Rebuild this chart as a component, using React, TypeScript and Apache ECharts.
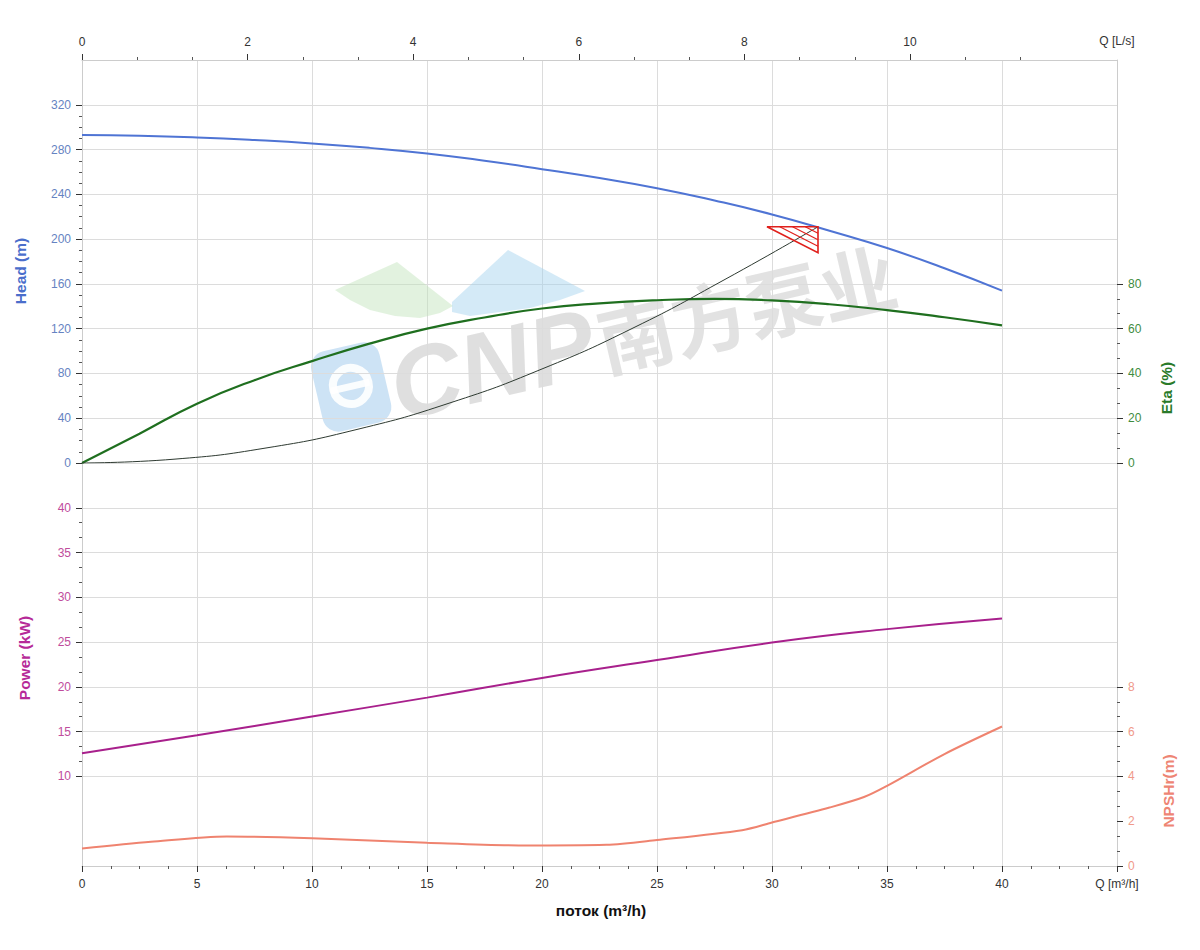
import React, { useEffect, useRef } from 'react';
import * as echarts from 'echarts';

// ---------- data ----------
const qPump = [0, 2.5, 5, 7.5, 10, 12.5, 15, 17.5, 20, 22.5, 25, 27.5, 30, 32.5, 35, 37.5, 40];
const headM = [292.9, 292.3, 290.8, 288.5, 285.5, 281.5, 276.5, 270.0, 262.5, 254.5, 245.5, 234.5, 222.0, 207.5, 192.0, 174.0, 154.0];
const etaPct = [0, 13.1, 26.5, 37.0, 45.5, 53.3, 60.0, 65.0, 69.0, 71.3, 72.7, 73.3, 72.6, 70.9, 68.3, 65.1, 61.5];
const qPower = [0, 5, 10, 15, 20, 25, 30, 35, 40];
const powerKw = [12.6, 14.6, 16.7, 18.8, 21.0, 23.0, 24.95, 26.45, 27.65];
const qNpsh = [0, 3, 6.3, 10, 15, 19, 22.8, 25, 28.7, 30, 32.5, 34, 35, 37.5, 40];
const npshM = [0.78, 1.08, 1.32, 1.24, 1.04, 0.92, 0.95, 1.16, 1.6, 1.94, 2.61, 3.08, 3.58, 5.0, 6.23];
const qSystem = [0, 4, 8, 12, 16, 20, 24, 28, 32];
const systemHeadM = [0, 3.4, 13.4, 30.2, 53.7, 84.0, 121.0, 164.5, 211.0];
const dutyPoint = [32, 211];

// ---------- tick labels ----------
const qLsTicks = [0, 2, 4, 6, 8, 10];
const headTicks = [0, 40, 80, 120, 160, 200, 240, 280, 320];
const etaTicks = [0, 20, 40, 60, 80];
const powerTicks = [10, 15, 20, 25, 30, 35, 40];
const npshTicks = [0, 2, 4, 6, 8];

const minorsBetween = (ticks: number[], n: number) => {
  const out: number[] = [];
  for (let i = 0; i < ticks.length - 1; i++) {
    const step = (ticks[i + 1] - ticks[i]) / n;
    for (let k = 1; k < n; k++) out.push(ticks[i] + step * k);
  }
  return out;
};

const FONT = "'Liberation Sans', Arial, sans-serif";
const C = {
  head: '#4f74d4',
  headLabel: '#6583c2',
  headTitle: '#4a6ecb',
  eta: '#1f6f1f',
  etaLabel: '#3f8c3f',
  etaTitle: '#2a7a2a',
  power: '#a8208c',
  powerLabel: '#c04c9c',
  powerTitle: '#b62a98',
  npsh: '#ef836f',
  npshLabel: '#f0998a',
  npshTitle: '#ee8574',
  system: '#2e3a31',
  duty: '#e0201c',
  grid: '#dcdcdc',
  axis: '#cccccc',
  tick: '#333333',
};

const GRID_LEFT = 82;
const GRID_WIDTH = 1035;

function majorAxis(opts: any) {
  const { gridIndex, position, min, max, interval, ticks, labelColor, split } = opts;
  return {
    type: 'value',
    gridIndex,
    position,
    min,
    max,
    interval,
    axisLine: { show: true, onZero: false, lineStyle: { color: C.axis, width: 1 } },
    axisTick: { show: true, customValues: ticks, length: 6, lineStyle: { color: C.tick } },
    axisLabel: {
      show: true,
      customValues: ticks,
      color: labelColor,
      fontFamily: FONT,
      fontSize: 12,
      margin: 11,
    },
    splitLine: { show: !!split, lineStyle: { color: C.grid, width: 1 } },
  };
}

function minorAxis(opts: any) {
  const { gridIndex, position, min, max, ticks } = opts;
  return {
    type: 'value',
    gridIndex,
    position,
    min,
    max,
    axisLine: { show: false, onZero: false },
    axisTick: { show: true, customValues: ticks, length: 3, lineStyle: { color: '#555' } },
    axisLabel: { show: false },
    splitLine: { show: false },
  };
}

function titleText(text: string, x: number, y: number, color: string, rotate: boolean) {
  return {
    type: 'text',
    x,
    y,
    rotation: rotate ? Math.PI / 2 : 0,
    z: 10,
    style: {
      text,
      fill: color,
      fontFamily: FONT,
      fontSize: 15.5,
      fontWeight: 'bold',
      align: 'center',
      verticalAlign: 'middle',
      textAlign: 'center',
      textVerticalAlign: 'middle',
    },
  };
}

export default function App() {
  const ref = useRef<HTMLDivElement>(null);

  useEffect(() => {
    if (!ref.current) return;
    const chart = echarts.init(ref.current, null, { renderer: 'svg' });

    const headData = qPump.map((q, i) => [q, headM[i]]);
    const etaData = qPump.map((q, i) => [q, etaPct[i]]);
    const powerData = qPower.map((q, i) => [q, powerKw[i]]);
    const npshData = qNpsh.map((q, i) => [q, npshM[i]]);
    const systemData = qSystem.map((q, i) => [q, systemHeadM[i]]);

    const qLsMinor = minorsBetween([0, 2, 4, 6, 8, 10, 12], 3).filter((v) => v < 11.5);

    const option: any = {
      animation: false,
      backgroundColor: '#ffffff',
      textStyle: { fontFamily: FONT },
      grid: [
        { left: GRID_LEFT, top: 60, width: GRID_WIDTH, height: 403 },
        { left: GRID_LEFT, top: 463, width: GRID_WIDTH, height: 403 },
      ],
      xAxis: [
        // 0: hidden m3/h axis for the upper grid (vertical grid lines)
        {
          type: 'value', gridIndex: 0, position: 'bottom', min: 0, max: 45, interval: 5,
          axisLine: { show: false, onZero: false }, axisTick: { show: false }, axisLabel: { show: false },
          splitLine: { show: true, lineStyle: { color: C.grid } },
        },
        // 1: top L/s axis
        {
          type: 'value', gridIndex: 0, position: 'top', min: 0, max: 12.5, interval: 2,
          axisLine: { show: true, onZero: false, lineStyle: { color: C.axis } },
          axisTick: { show: true, customValues: qLsTicks, length: 6, lineStyle: { color: C.tick } },
          axisLabel: { show: true, customValues: qLsTicks, color: '#333', fontFamily: FONT, fontSize: 12, margin: 12 },
          splitLine: { show: false },
        },
        // 2: top L/s minor ticks
        {
          type: 'value', gridIndex: 0, position: 'top', min: 0, max: 12.5,
          axisLine: { show: false, onZero: false },
          axisTick: { show: true, customValues: qLsMinor, length: 3, lineStyle: { color: '#555' } },
          axisLabel: { show: false }, splitLine: { show: false },
        },
        // 3: bottom m3/h axis
        {
          type: 'value', gridIndex: 1, position: 'bottom', min: 0, max: 45, interval: 5,
          axisLine: { show: true, onZero: false, lineStyle: { color: C.axis } },
          axisTick: { show: true, length: 6, lineStyle: { color: C.tick } },
          minorTick: { show: true, splitNumber: 4, length: 3, lineStyle: { color: '#555' } },
          axisLabel: {
            show: true, color: '#333', fontFamily: FONT, fontSize: 12, margin: 12,
            formatter: (v: number) => (v === 45 ? 'Q [m³/h]' : String(v)),
          },
          splitLine: { show: true, lineStyle: { color: C.grid } },
        },
      ],
      yAxis: [
        majorAxis({ gridIndex: 0, position: 'left', min: 0, max: 360, interval: 40, ticks: headTicks, labelColor: C.headLabel, split: true }),
        minorAxis({ gridIndex: 0, position: 'left', min: 0, max: 360, ticks: minorsBetween(headTicks, 4) }),
        majorAxis({ gridIndex: 0, position: 'right', min: 0, max: 180, interval: 20, ticks: etaTicks, labelColor: C.etaLabel, split: false }),
        minorAxis({ gridIndex: 0, position: 'right', min: 0, max: 180, ticks: minorsBetween(etaTicks, 3) }),
        majorAxis({ gridIndex: 1, position: 'left', min: 0, max: 45, interval: 5, ticks: powerTicks, labelColor: C.powerLabel, split: true }),
        minorAxis({ gridIndex: 1, position: 'left', min: 0, max: 45, ticks: minorsBetween(powerTicks, 3) }),
        majorAxis({ gridIndex: 1, position: 'right', min: 0, max: 18, interval: 2, ticks: npshTicks, labelColor: C.npshLabel, split: false }),
        minorAxis({ gridIndex: 1, position: 'right', min: 0, max: 18, ticks: minorsBetween(npshTicks, 3) }),
      ],
      graphic: [
        // watermark mountains
        {
          type: 'polygon', z: 1, silent: true,
          shape: { points: [[397, 262], [453, 306], [440, 313], [420, 318], [395, 316], [370, 310], [350, 300], [335, 290]] },
          style: { fill: 'rgba(190,226,184,0.45)' },
        },
        {
          type: 'polygon', z: 1, silent: true,
          shape: { points: [[508, 250], [585, 291], [560, 300], [530, 308], [500, 312], [470, 316], [452, 312], [452, 302]] },
          style: { fill: 'rgba(160,208,238,0.45)' },
        },
        {
          type: 'group', x: 398, y: 416, rotation: 0.23, z: 1, silent: true,
          children: [
            { type: 'rect', shape: { x: -74, y: -80, width: 70, height: 82, r: 16 }, style: { fill: 'rgba(130,185,230,0.4)' } },
            { type: 'circle', shape: { cx: -39, cy: -40, r: 18 }, style: { fill: 'none', stroke: 'rgba(255,255,255,0.9)', lineWidth: 8 } },
            { type: 'rect', shape: { x: -60, y: -43, width: 40, height: 7 }, style: { fill: 'rgba(255,255,255,0.9)' } },
            {
              type: 'text', x: 0, y: 20,
              style: {
                text: 'CNP', fill: 'rgba(150,150,150,0.3)', fontFamily: FONT, fontSize: 98,
                fontWeight: 'bold', fontStyle: 'italic', align: 'left', verticalAlign: 'bottom',
                textAlign: 'left', textVerticalAlign: 'bottom',
              },
            },
            {
              type: 'text', x: 212, y: 10,
              style: {
                text: '南方泵业', fill: 'rgba(150,150,150,0.28)', fontFamily: "'Noto Sans CJK SC'", fontSize: 76,
                fontWeight: 'bold', align: 'left', verticalAlign: 'bottom',
                textAlign: 'left', textVerticalAlign: 'bottom',
              },
            },
          ],
        },
        titleText('Head (m)', 20, 271, C.headTitle, true),
        titleText('Power (kW)', 24, 658, C.powerTitle, true),
        titleText('Eta (%)', 1166, 388, C.etaTitle, true),
        titleText('NPSHr(m)', 1168, 791, C.npshTitle, true),
        titleText('поток (m³/h)', 601, 910, '#111111', false),
        {
          type: 'text', x: 1117, y: 41, z: 10,
          style: {
            text: 'Q [L/s]', fill: '#333', fontFamily: FONT, fontSize: 12,
            align: 'center', verticalAlign: 'middle', textAlign: 'center', textVerticalAlign: 'middle',
          },
        },
      ],
      series: [
        {
          name: 'Head', type: 'line', xAxisIndex: 0, yAxisIndex: 0, data: headData,
          smooth: true, showSymbol: false, symbol: 'none', z: 4,
          lineStyle: { color: C.head, width: 2 },
        },
        {
          name: 'Eta', type: 'line', xAxisIndex: 0, yAxisIndex: 2, data: etaData,
          smooth: true, showSymbol: false, symbol: 'none', z: 4,
          lineStyle: { color: C.eta, width: 2.2 },
        },
        {
          name: 'System', type: 'line', xAxisIndex: 0, yAxisIndex: 0, data: systemData,
          smooth: true, showSymbol: false, symbol: 'none', z: 4,
          lineStyle: { color: C.system, width: 1 },
        },
        {
          name: 'Duty', type: 'custom', xAxisIndex: 0, yAxisIndex: 0, data: [dutyPoint], z: 5,
          renderItem: (params: any, api: any) => {
            const p = api.coord([api.value(0), api.value(1)]);
            const w = 51;
            const h = 26;
            const children: any[] = [
              {
                type: 'polygon',
                shape: { points: [[p[0] - w, p[1]], [p[0], p[1]], [p[0], p[1] + h]] },
                style: { fill: 'none', stroke: C.duty, lineWidth: 1.6 },
              },
            ];
            [0.25, 0.5, 0.75].forEach((s) => {
              children.push({
                type: 'line',
                shape: { x1: p[0] - w * s, y1: p[1], x2: p[0], y2: p[1] + h * s },
                style: { stroke: C.duty, lineWidth: 1.2 },
              });
            });
            return { type: 'group', children };
          },
        },
        {
          name: 'Power', type: 'line', xAxisIndex: 3, yAxisIndex: 4, data: powerData,
          smooth: true, showSymbol: false, symbol: 'none', z: 4,
          lineStyle: { color: C.power, width: 2 },
        },
        {
          name: 'NPSHr', type: 'line', xAxisIndex: 3, yAxisIndex: 6, data: npshData,
          smooth: 0.3, showSymbol: false, symbol: 'none', z: 4,
          lineStyle: { color: C.npsh, width: 2 },
        },
      ],
    };

    chart.setOption(option);
    return () => chart.dispose();
  }, []);

  return (
    <div
      ref={ref}
      style={{ position: 'absolute', left: 0, top: 0, width: 1200, height: 950, background: '#fff' }}
    />
  );
}
